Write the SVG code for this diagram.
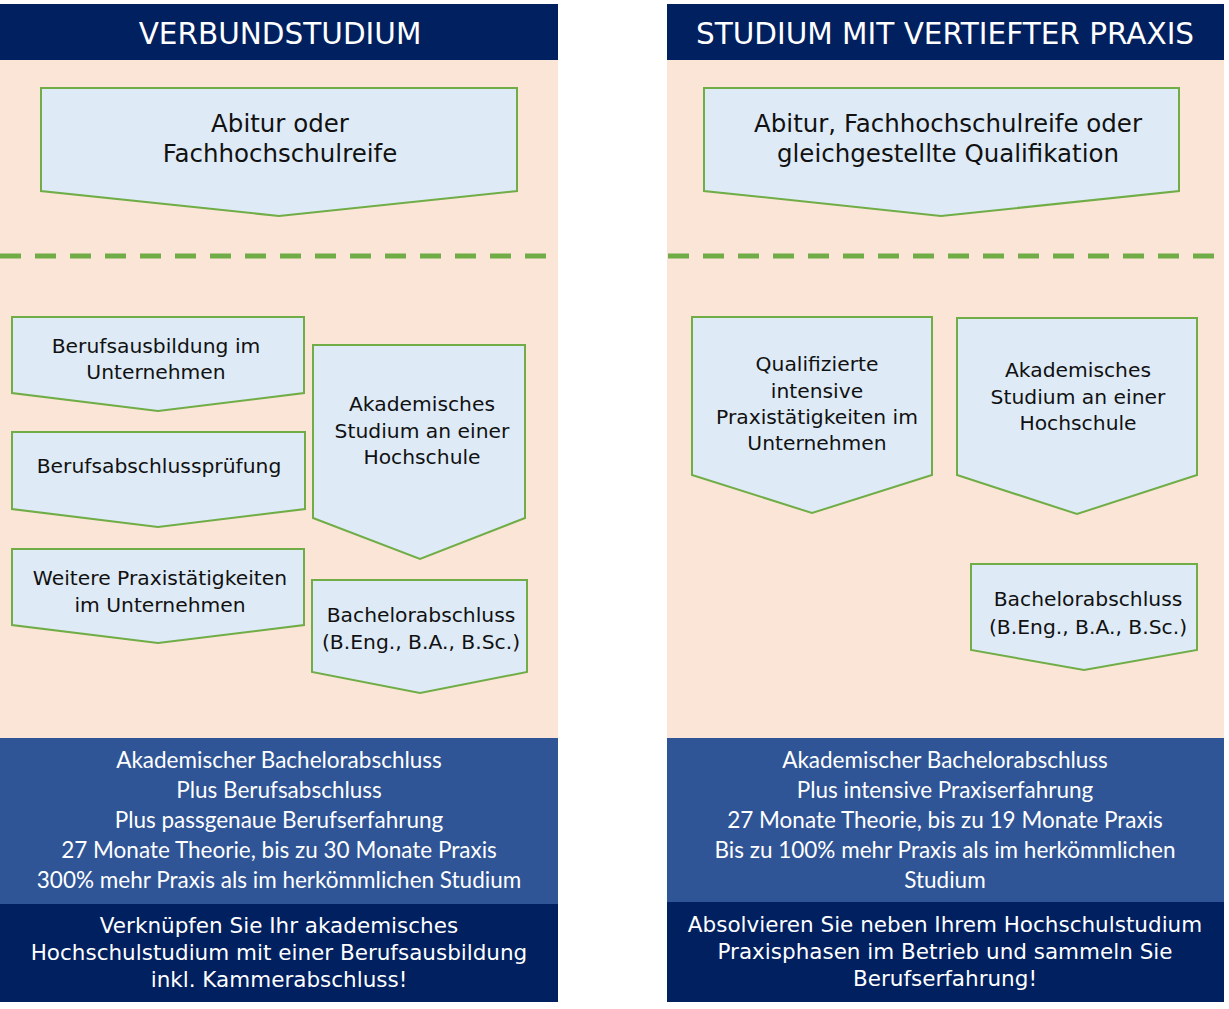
<svg xmlns="http://www.w3.org/2000/svg" width="1229" height="1009" viewBox="0 0 1229 1009">
<style>
.bg{fill:#FFFFFF}
.hdr{fill:#002060}
.peach{fill:#FBE5D6}
.mid{fill:#2F5597}
.box{fill:#DEEBF7;stroke:#70AD47;stroke-width:2}
.dash{stroke:#70AD47;stroke-width:5;stroke-dasharray:21 14;fill:none}
.ht{font-family:"DejaVu Sans",sans-serif;font-size:29.5px;fill:#FFFFFF;text-anchor:middle}
.bt{font-family:"DejaVu Sans",sans-serif;font-size:20.3px;fill:#111111;text-anchor:middle}
.tt{font-family:"DejaVu Sans",sans-serif;font-size:24.5px;fill:#111111;text-anchor:middle}
.mt{font-family:Lato,"Liberation Sans",sans-serif;font-size:22.5px;fill:#FFFFFF;text-anchor:middle}
.nt{font-family:"DejaVu Sans",sans-serif;font-size:21.5px;fill:#FFFFFF;text-anchor:middle}
</style>
<rect class="bg" x="0" y="0" width="1229" height="1009"/>

<g id="left-column">
<rect class="hdr" x="0" y="4" width="558" height="56"/>
<rect class="peach" x="0" y="60" width="558" height="678"/>
<rect class="mid" x="0" y="738" width="558" height="166"/>
<rect class="hdr" x="0" y="904" width="558" height="98"/>
<text class="ht" x="280" y="44">VERBUNDSTUDIUM</text>
</g>

<g id="right-column">
<rect class="hdr" x="667" y="4" width="557" height="56"/>
<rect class="peach" x="667" y="60" width="557" height="678"/>
<rect class="mid" x="667" y="738" width="557" height="164"/>
<rect class="hdr" x="667" y="902" width="557" height="100"/>
<text class="ht" x="945" y="44">STUDIUM MIT VERTIEFTER PRAXIS</text>
</g>

<g id="connectors">
<line class="dash" x1="0" y1="256" x2="546" y2="256"/>
<line class="dash" x1="668" y1="256" x2="1214" y2="256"/>
</g>

<g id="node-abitur-left">
<polygon class="box" points="41,88 517,88 517,191 279,216 41,191"/>
<text class="tt" x="280" y="132">Abitur oder</text>
<text class="tt" x="280" y="162">Fachhochschulreife</text>
</g>

<g id="node-berufsausbildung">
<polygon class="box" points="12,317 304,317 304,393 158,411 12,393"/>
<text class="bt" x="156" y="353">Berufsausbildung im</text>
<text class="bt" x="156" y="379">Unternehmen</text>
</g>

<g id="node-berufsabschlusspruefung">
<polygon class="box" points="12,432 305,432 305,509 158,527 12,509"/>
<text class="bt" x="159" y="473">Berufsabschlussprüfung</text>
</g>

<g id="node-weitere-praxis">
<polygon class="box" points="12,549 304,549 304,625 158,643 12,625"/>
<text class="bt" x="160" y="585">Weitere Praxistätigkeiten</text>
<text class="bt" x="160" y="612">im Unternehmen</text>
</g>

<g id="node-akademisches-left">
<polygon class="box" points="313,345 525,345 525,518 420,559 313,518"/>
<text class="bt" x="422" y="411">Akademisches</text>
<text class="bt" x="422" y="438">Studium an einer</text>
<text class="bt" x="422" y="464">Hochschule</text>
</g>

<g id="node-bachelor-left">
<polygon class="box" points="312,580 527,580 527,672 420,693 312,672"/>
<text class="bt" x="421" y="622">Bachelorabschluss</text>
<text class="bt" x="421" y="649">(B.Eng., B.A., B.Sc.)</text>
</g>

<g id="node-abitur-right">
<polygon class="box" points="704,88 1179,88 1179,191 941,216 704,191"/>
<text class="tt" x="948" y="132">Abitur, Fachhochschulreife oder</text>
<text class="tt" x="948" y="162">gleichgestellte Qualifikation</text>
</g>

<g id="node-qualifizierte">
<polygon class="box" points="692,317 932,317 932,475 812,513 692,475"/>
<text class="bt" x="817" y="371">Qualifizierte</text>
<text class="bt" x="817" y="398">intensive</text>
<text class="bt" x="817" y="424">Praxistätigkeiten im</text>
<text class="bt" x="817" y="450">Unternehmen</text>
</g>

<g id="node-akademisches-right">
<polygon class="box" points="957,318 1197,318 1197,475 1077,514 957,475"/>
<text class="bt" x="1078" y="377">Akademisches</text>
<text class="bt" x="1078" y="404">Studium an einer</text>
<text class="bt" x="1078" y="430">Hochschule</text>
</g>

<g id="node-bachelor-right">
<polygon class="box" points="971,564 1197,564 1197,650 1084,670 971,650"/>
<text class="bt" x="1088" y="606">Bachelorabschluss</text>
<text class="bt" x="1088" y="634">(B.Eng., B.A., B.Sc.)</text>
</g>

<g id="summary-left">
<text class="mt" x="279" y="768">Akademischer Bachelorabschluss</text>
<text class="mt" x="279" y="798">Plus Berufsabschluss</text>
<text class="mt" x="279" y="828">Plus passgenaue Berufserfahrung</text>
<text class="mt" x="279" y="858">27 Monate Theorie, bis zu 30 Monate Praxis</text>
<text class="mt" x="279" y="888">300% mehr Praxis als im herkömmlichen Studium</text>
</g>

<g id="claim-left">
<text class="nt" x="279" y="933">Verknüpfen Sie Ihr akademisches</text>
<text class="nt" x="279" y="960">Hochschulstudium mit einer Berufsausbildung</text>
<text class="nt" x="279" y="987">inkl. Kammerabschluss!</text>
</g>

<g id="summary-right">
<text class="mt" x="945" y="768">Akademischer Bachelorabschluss</text>
<text class="mt" x="945" y="798">Plus intensive Praxiserfahrung</text>
<text class="mt" x="945" y="828">27 Monate Theorie, bis zu 19 Monate Praxis</text>
<text class="mt" x="945" y="858">Bis zu 100% mehr Praxis als im herkömmlichen</text>
<text class="mt" x="945" y="888">Studium</text>
</g>

<g id="claim-right">
<text class="nt" x="945" y="932">Absolvieren Sie neben Ihrem Hochschulstudium</text>
<text class="nt" x="945" y="959">Praxisphasen im Betrieb und sammeln Sie</text>
<text class="nt" x="945" y="986">Berufserfahrung!</text>
</g>
</svg>
